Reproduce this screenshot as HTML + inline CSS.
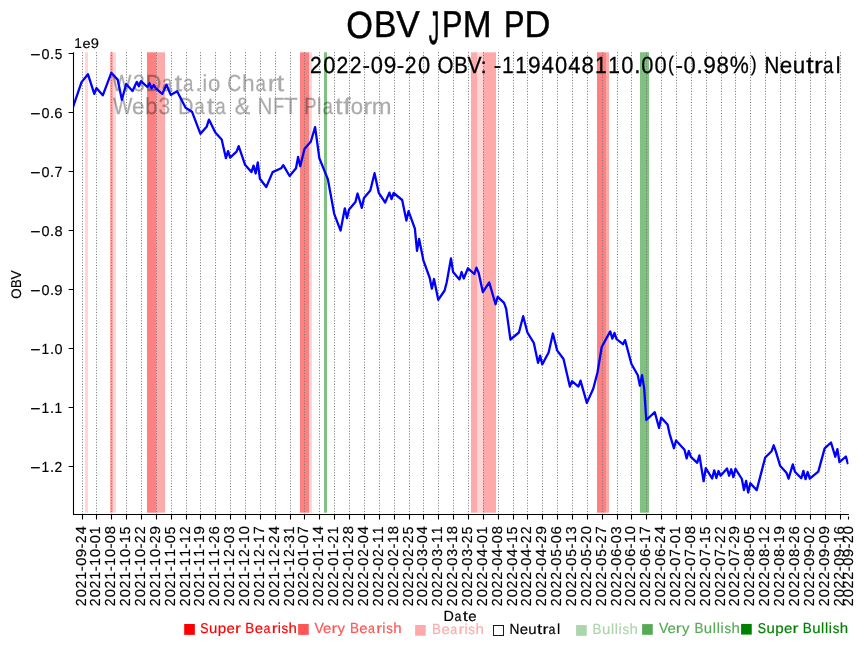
<!DOCTYPE html>
<html><head><meta charset="utf-8"><title>OBV JPM PD</title>
<style>html,body{margin:0;padding:0;background:#fff;width:867px;height:646px;overflow:hidden}
text{font-family:'Liberation Sans', sans-serif;font-kerning:none;text-rendering:geometricPrecision} svg{will-change:transform}</style></head>
<body>
<svg width="867" height="646" viewBox="0 0 867 646" style="display:block;font-family:'Liberation Sans', sans-serif">
<rect width="867" height="646" fill="#fff"/>
<rect x="85" y="52.3" width="3" height="460.40" fill="#ffd5d5"/>
<rect x="110" y="52.3" width="3" height="460.40" fill="#ffaaaa"/>
<rect x="113" y="52.3" width="3" height="460.40" fill="#ffd5d5"/>
<rect x="147" y="52.3" width="9" height="460.40" fill="#ff8080"/>
<rect x="156" y="52.3" width="9" height="460.40" fill="#ffaaaa"/>
<rect x="300" y="52.3" width="9" height="460.40" fill="#ff8080"/>
<rect x="309" y="52.3" width="3" height="460.40" fill="#ffd5d5"/>
<rect x="324" y="52.3" width="3" height="460.40" fill="#80c080"/>
<rect x="471" y="52.3" width="6" height="460.40" fill="#ffaaaa"/>
<rect x="477" y="52.3" width="6" height="460.40" fill="#ffd5d5"/>
<rect x="483" y="52.3" width="13" height="460.40" fill="#ffaaaa"/>
<rect x="597" y="52.3" width="9" height="460.40" fill="#ff8080"/>
<rect x="606" y="52.3" width="3" height="460.40" fill="#ffaaaa"/>
<rect x="640" y="52.3" width="9" height="460.40" fill="#80c080"/>
<g opacity="0.33">
<g role="img" aria-label="W3Data.io Chart" font-size="20.833" fill="#000" stroke="#000" stroke-width="0.250"><text transform="matrix(0.9859 0 0 1.1158 112.11 90.70)">W</text><text transform="matrix(1.0124 0 0 1.1249 132.93 90.78)">3</text><text transform="matrix(1.0346 0 0 1.1158 145.71 90.70)">D</text><text transform="matrix(0.8992 0 0 1.1037 161.96 90.79)">a</text><text transform="matrix(1.3365 0 0 1.1300 174.43 90.52)">t</text><text transform="matrix(0.8992 0 0 1.1037 182.94 90.79)">a</text><text transform="matrix(1.0821 0 0 1.2213 195.44 90.70)">.</text><text transform="matrix(1.0222 0 0 1.1041 202.45 90.70)">i</text><text transform="matrix(1.0631 0 0 1.1037 207.93 90.79)">o</text><text transform="matrix(0.9283 0 0 1.1249 227.30 90.78)">C</text><text transform="matrix(1.0856 0 0 1.1041 242.02 90.70)">h</text><text transform="matrix(0.8992 0 0 1.1037 255.38 90.79)">a</text><text transform="matrix(1.2812 0 0 1.0960 267.83 90.70)">r</text><text transform="matrix(1.3365 0 0 1.1300 276.43 90.52)">t</text></g>
<g role="img" aria-label="Web3 Data &amp; NFT Platform" font-size="20.833" fill="#000" stroke="#000" stroke-width="0.250"><text transform="matrix(0.9859 0 0 1.1158 112.91 113.80)">W</text><text transform="matrix(1.0801 0 0 1.1037 131.89 113.89)">e</text><text transform="matrix(1.0879 0 0 1.1097 144.97 113.88)">b</text><text transform="matrix(1.0124 0 0 1.1249 158.58 113.88)">3</text><text transform="matrix(1.0346 0 0 1.1158 177.99 113.80)">D</text><text transform="matrix(0.8992 0 0 1.1037 194.24 113.89)">a</text><text transform="matrix(1.3365 0 0 1.1300 206.71 113.62)">t</text><text transform="matrix(0.8992 0 0 1.1037 215.22 113.89)">a</text><text transform="matrix(1.1133 0 0 1.1351 234.68 113.88)">&amp;</text><text transform="matrix(0.9878 0 0 1.1158 257.46 113.80)">N</text><text transform="matrix(0.8571 0 0 1.1158 273.30 113.80)">F</text><text transform="matrix(1.0907 0 0 1.1158 283.78 113.80)">T</text><text transform="matrix(0.8844 0 0 1.1158 304.27 113.80)">P</text><text transform="matrix(1.0222 0 0 1.1041 316.85 113.80)">l</text><text transform="matrix(0.8992 0 0 1.1037 322.58 113.89)">a</text><text transform="matrix(1.3365 0 0 1.1300 335.05 113.62)">t</text><text transform="matrix(1.3131 0 0 1.1056 343.19 113.80)">f</text><text transform="matrix(1.0631 0 0 1.1037 350.67 113.89)">o</text><text transform="matrix(1.2812 0 0 1.0960 363.34 113.80)">r</text><text transform="matrix(1.1394 0 0 1.0960 371.75 113.80)">m</text></g>
</g>
<path d="M82.5 514.7V52.3M96.5 514.7V52.3M111.5 514.7V52.3M126.5 514.7V52.3M141.5 514.7V52.3M156.5 514.7V52.3M171.5 514.7V52.3M186.5 514.7V52.3M200.5 514.7V52.3M215.5 514.7V52.3M230.5 514.7V52.3M245.5 514.7V52.3M260.5 514.7V52.3M275.5 514.7V52.3M290.5 514.7V52.3M304.5 514.7V52.3M319.5 514.7V52.3M334.5 514.7V52.3M349.5 514.7V52.3M364.5 514.7V52.3M379.5 514.7V52.3M394.5 514.7V52.3M409.5 514.7V52.3M423.5 514.7V52.3M438.5 514.7V52.3M453.5 514.7V52.3M468.5 514.7V52.3M483.5 514.7V52.3M498.5 514.7V52.3M513.5 514.7V52.3M527.5 514.7V52.3M542.5 514.7V52.3M557.5 514.7V52.3M572.5 514.7V52.3M587.5 514.7V52.3M602.5 514.7V52.3M617.5 514.7V52.3M631.5 514.7V52.3M646.5 514.7V52.3M661.5 514.7V52.3M676.5 514.7V52.3M691.5 514.7V52.3M706.5 514.7V52.3M721.5 514.7V52.3M735.5 514.7V52.3M750.5 514.7V52.3M765.5 514.7V52.3M780.5 514.7V52.3M795.5 514.7V52.3M810.5 514.7V52.3M825.5 514.7V52.3M840.5 514.7V52.3" stroke="#777" stroke-width="1" stroke-dasharray="1.043 1.720" fill="none"/>
<clipPath id="ax"><rect x="73.56" y="52.3" width="774.95" height="462.3"/></clipPath>
<path clip-path="url(#ax)" d="M73.06 106.80 L81.55 82.10 L87.92 74.20 L94.29 93.90 L96.41 88.10 L102.78 95.30 L111.28 72.80 L117.65 79.60 L121.89 99.80 L126.14 84.00 L132.51 91.10 L136.75 81.90 L138.88 86.30 L141.00 81.20 L147.37 87.00 L149.49 83.30 L151.62 88.50 L153.74 85.00 L155.86 88.30 L162.23 93.90 L166.48 84.70 L170.72 94.90 L177.09 91.30 L185.59 107.80 L191.96 111.70 L200.45 133.80 L206.82 126.40 L208.94 119.60 L215.31 132.60 L221.68 139.60 L225.93 158.20 L228.05 151.20 L230.17 157.70 L236.54 151.70 L238.66 146.10 L245.03 164.70 L251.40 172.10 L253.53 165.60 L255.65 173.50 L257.77 162.50 L259.90 178.70 L266.27 187.00 L272.64 172.10 L281.13 168.30 L283.25 165.20 L289.62 176.00 L295.99 168.30 L298.11 157.00 L300.24 166.20 L304.48 148.90 L310.85 141.50 L315.10 127.10 L319.34 158.20 L327.84 179.10 L334.21 213.80 L340.58 230.60 L344.82 208.30 L346.95 218.10 L349.07 209.50 L355.44 201.90 L357.56 193.50 L361.81 207.80 L363.93 198.10 L370.30 190.50 L374.55 173.20 L378.79 192.90 L385.16 202.50 L389.41 192.60 L391.53 199.10 L393.65 193.00 L402.15 200.00 L406.39 220.50 L408.52 211.20 L414.89 228.60 L417.01 250.90 L419.13 238.90 L423.38 260.30 L429.75 278.00 L431.87 288.70 L433.99 279.00 L438.24 299.80 L444.61 290.50 L446.73 282.20 L450.98 258.50 L453.10 272.00 L459.47 279.40 L461.59 272.00 L463.72 278.50 L467.96 268.30 L474.33 274.00 L476.46 267.60 L478.58 272.60 L482.83 292.10 L489.20 282.40 L495.56 304.20 L497.69 296.80 L504.06 302.80 L506.18 308.90 L510.43 339.50 L518.92 332.50 L523.17 316.20 L527.41 332.50 L533.78 342.80 L538.03 362.80 L540.15 355.70 L542.27 364.40 L548.64 352.50 L552.89 333.50 L557.14 350.40 L563.51 359.00 L569.87 386.60 L572.00 381.20 L578.37 386.60 L580.49 380.60 L586.86 402.90 L593.23 388.80 L597.48 372.50 L601.72 347.00 L610.21 331.40 L612.34 338.60 L614.46 332.90 L616.58 339.20 L622.95 344.20 L625.08 340.10 L631.45 364.00 L637.82 375.20 L639.94 385.70 L642.06 375.20 L644.18 388.40 L646.31 420.00 L654.80 412.20 L659.05 427.90 L661.17 417.60 L667.54 424.50 L669.66 434.10 L673.91 448.20 L676.03 440.50 L684.52 449.80 L686.65 458.40 L688.77 451.00 L690.89 456.80 L697.26 462.80 L699.39 455.40 L703.63 481.20 L705.76 468.20 L712.13 478.50 L714.25 470.30 L716.37 478.00 L718.49 471.00 L720.62 475.70 L726.99 468.40 L729.11 475.70 L731.23 469.30 L733.36 477.10 L735.48 468.80 L741.85 479.00 L743.97 490.10 L746.10 480.90 L748.22 492.50 L750.34 483.20 L756.71 490.10 L765.20 457.50 L771.57 451.20 L773.70 445.30 L775.82 451.40 L780.07 465.70 L786.44 472.70 L788.56 478.70 L792.80 464.40 L794.93 471.80 L801.30 478.30 L803.42 470.90 L805.54 479.20 L807.67 472.00 L809.79 478.70 L818.28 471.60 L824.65 448.40 L831.02 442.50 L835.27 456.70 L837.39 449.10 L839.51 462.20 L845.88 456.50 L848.01 464.20" stroke="#0000ff" stroke-width="2.3" fill="none" stroke-linejoin="round"/>
<path d="M73.5 52.3V514.5H848.9" stroke="#000" stroke-width="1.1" fill="none"/>
<path d="M82.5 514.5V519.5M96.5 514.5V519.5M111.5 514.5V519.5M126.5 514.5V519.5M141.5 514.5V519.5M156.5 514.5V519.5M171.5 514.5V519.5M186.5 514.5V519.5M200.5 514.5V519.5M215.5 514.5V519.5M230.5 514.5V519.5M245.5 514.5V519.5M260.5 514.5V519.5M275.5 514.5V519.5M290.5 514.5V519.5M304.5 514.5V519.5M319.5 514.5V519.5M334.5 514.5V519.5M349.5 514.5V519.5M364.5 514.5V519.5M379.5 514.5V519.5M394.5 514.5V519.5M409.5 514.5V519.5M423.5 514.5V519.5M438.5 514.5V519.5M453.5 514.5V519.5M468.5 514.5V519.5M483.5 514.5V519.5M498.5 514.5V519.5M513.5 514.5V519.5M527.5 514.5V519.5M542.5 514.5V519.5M557.5 514.5V519.5M572.5 514.5V519.5M587.5 514.5V519.5M602.5 514.5V519.5M617.5 514.5V519.5M631.5 514.5V519.5M646.5 514.5V519.5M661.5 514.5V519.5M676.5 514.5V519.5M691.5 514.5V519.5M706.5 514.5V519.5M721.5 514.5V519.5M735.5 514.5V519.5M750.5 514.5V519.5M765.5 514.5V519.5M780.5 514.5V519.5M795.5 514.5V519.5M810.5 514.5V519.5M825.5 514.5V519.5M840.5 514.5V519.5M848.5 516.4V519.6M68.6 53.5H73.5M68.6 112.5H73.5M68.6 171.5H73.5M68.6 230.5H73.5M68.6 289.5H73.5M68.6 348.5H73.5M68.6 407.5H73.5M68.6 466.5H73.5" stroke="#000" stroke-width="1.1" fill="none"/>
<g role="img" aria-label="−0.5" font-size="13.680" fill="#000" stroke="#000" stroke-width="0.164"><text transform="matrix(1.2884 0 0 1.1822 30.33 60.12)">−</text><text transform="matrix(1.0541 0 0 1.0454 41.50 58.96)">0</text><text transform="matrix(1.0821 0 0 1.1775 49.95 59.10)">.</text><text transform="matrix(0.9949 0 0 1.0607 54.68 58.96)">5</text></g>
<g role="img" aria-label="−0.6" font-size="13.680" fill="#000" stroke="#000" stroke-width="0.164"><text transform="matrix(1.2884 0 0 1.1822 30.33 119.12)">−</text><text transform="matrix(1.0541 0 0 1.0454 41.50 117.96)">0</text><text transform="matrix(1.0821 0 0 1.1775 49.95 118.10)">.</text><text transform="matrix(1.0910 0 0 1.0454 54.36 117.96)">6</text></g>
<g role="img" aria-label="−0.7" font-size="13.680" fill="#000" stroke="#000" stroke-width="0.164"><text transform="matrix(1.2884 0 0 1.1822 30.33 178.12)">−</text><text transform="matrix(1.0541 0 0 1.0454 41.50 176.96)">0</text><text transform="matrix(1.0821 0 0 1.1775 49.95 177.10)">.</text><text transform="matrix(1.0311 0 0 1.0758 54.56 177.10)">7</text></g>
<g role="img" aria-label="−0.8" font-size="13.680" fill="#000" stroke="#000" stroke-width="0.164"><text transform="matrix(1.2884 0 0 1.1822 30.33 237.12)">−</text><text transform="matrix(1.0541 0 0 1.0454 41.50 235.96)">0</text><text transform="matrix(1.0821 0 0 1.1775 49.95 236.10)">.</text><text transform="matrix(1.0656 0 0 1.0454 54.46 235.96)">8</text></g>
<g role="img" aria-label="−0.9" font-size="13.680" fill="#000" stroke="#000" stroke-width="0.164"><text transform="matrix(1.2884 0 0 1.1822 30.33 296.12)">−</text><text transform="matrix(1.0541 0 0 1.0454 41.50 294.96)">0</text><text transform="matrix(1.0821 0 0 1.1775 49.95 295.10)">.</text><text transform="matrix(1.0888 0 0 1.0454 54.33 294.96)">9</text></g>
<g role="img" aria-label="−1.0" font-size="13.680" fill="#000" stroke="#000" stroke-width="0.164"><text transform="matrix(1.2884 0 0 1.1822 30.33 355.12)">−</text><text transform="matrix(1.0068 0 0 1.0758 41.62 354.10)">1</text><text transform="matrix(1.0821 0 0 1.1775 49.95 354.10)">.</text><text transform="matrix(1.0541 0 0 1.0454 54.50 353.96)">0</text></g>
<g role="img" aria-label="−1.1" font-size="13.680" fill="#000" stroke="#000" stroke-width="0.164"><text transform="matrix(1.2884 0 0 1.1822 30.33 414.12)">−</text><text transform="matrix(1.0068 0 0 1.0758 41.62 413.10)">1</text><text transform="matrix(1.0821 0 0 1.1775 49.95 413.10)">.</text><text transform="matrix(1.0068 0 0 1.0758 54.62 413.10)">1</text></g>
<g role="img" aria-label="−1.2" font-size="13.680" fill="#000" stroke="#000" stroke-width="0.164"><text transform="matrix(1.2884 0 0 1.1822 30.33 473.12)">−</text><text transform="matrix(1.0068 0 0 1.0758 41.62 472.10)">1</text><text transform="matrix(1.0821 0 0 1.1775 49.95 472.10)">.</text><text transform="matrix(1.0161 0 0 1.0600 54.47 472.10)">2</text></g>
<g role="img" aria-label="1e9" font-size="13.530" fill="#000" stroke="#000" stroke-width="0.162"><text transform="matrix(1.0068 0 0 1.0596 74.16 47.90)">1</text><text transform="matrix(1.0801 0 0 0.9984 82.43 47.77)">e</text><text transform="matrix(1.0888 0 0 1.0296 90.77 47.76)">9</text></g>
<g role="img" aria-label="OBV" transform="translate(21.00 0) rotate(-90)" font-size="13.440" fill="#000" stroke="#000" stroke-width="0.161"><text transform="matrix(0.9886 0 0 1.0296 -298.73 -0.14)">O</text><text transform="matrix(0.9716 0 0 1.0596 -288.08 0.00)">B</text><text transform="matrix(1.0148 0 0 1.0596 -279.48 0.00)">V</text></g>
<g role="img" aria-label="2021-09-24" transform="translate(85.80 0) rotate(-90)" font-size="13.889" fill="#000" stroke="#000" stroke-width="0.167"><text transform="matrix(1.0161 0 0 1.0441 -606.16 0.00)">2</text><text transform="matrix(1.0541 0 0 1.0296 -597.29 -0.14)">0</text><text transform="matrix(1.0161 0 0 1.0441 -588.50 0.00)">2</text><text transform="matrix(1.0068 0 0 1.0596 -579.52 0.00)">1</text><text transform="matrix(1.0780 0 0 1.0250 -571.14 -0.02)">-</text><text transform="matrix(1.0541 0 0 1.0296 -565.80 -0.14)">0</text><text transform="matrix(1.0888 0 0 1.0296 -557.15 -0.14)">9</text><text transform="matrix(1.0780 0 0 1.0250 -548.48 -0.02)">-</text><text transform="matrix(1.0161 0 0 1.0441 -543.18 0.00)">2</text><text transform="matrix(1.0543 0 0 1.0596 -534.31 0.00)">4</text></g>
<g role="img" aria-label="2021-10-01" transform="translate(99.80 0) rotate(-90)" font-size="13.889" fill="#000" stroke="#000" stroke-width="0.167"><text transform="matrix(1.0161 0 0 1.0441 -606.16 0.00)">2</text><text transform="matrix(1.0541 0 0 1.0296 -597.29 -0.14)">0</text><text transform="matrix(1.0161 0 0 1.0441 -588.50 0.00)">2</text><text transform="matrix(1.0068 0 0 1.0596 -579.52 0.00)">1</text><text transform="matrix(1.0780 0 0 1.0250 -571.14 -0.02)">-</text><text transform="matrix(1.0068 0 0 1.0596 -565.69 0.00)">1</text><text transform="matrix(1.0541 0 0 1.0296 -556.98 -0.14)">0</text><text transform="matrix(1.0780 0 0 1.0250 -548.48 -0.02)">-</text><text transform="matrix(1.0541 0 0 1.0296 -543.14 -0.14)">0</text><text transform="matrix(1.0068 0 0 1.0596 -534.20 0.00)">1</text></g>
<g role="img" aria-label="2021-10-08" transform="translate(114.80 0) rotate(-90)" font-size="13.889" fill="#000" stroke="#000" stroke-width="0.167"><text transform="matrix(1.0161 0 0 1.0441 -606.16 0.00)">2</text><text transform="matrix(1.0541 0 0 1.0296 -597.29 -0.14)">0</text><text transform="matrix(1.0161 0 0 1.0441 -588.50 0.00)">2</text><text transform="matrix(1.0068 0 0 1.0596 -579.52 0.00)">1</text><text transform="matrix(1.0780 0 0 1.0250 -571.14 -0.02)">-</text><text transform="matrix(1.0068 0 0 1.0596 -565.69 0.00)">1</text><text transform="matrix(1.0541 0 0 1.0296 -556.98 -0.14)">0</text><text transform="matrix(1.0780 0 0 1.0250 -548.48 -0.02)">-</text><text transform="matrix(1.0541 0 0 1.0296 -543.14 -0.14)">0</text><text transform="matrix(1.0656 0 0 1.0296 -534.36 -0.14)">8</text></g>
<g role="img" aria-label="2021-10-15" transform="translate(129.80 0) rotate(-90)" font-size="13.889" fill="#000" stroke="#000" stroke-width="0.167"><text transform="matrix(1.0161 0 0 1.0441 -606.16 0.00)">2</text><text transform="matrix(1.0541 0 0 1.0296 -597.29 -0.14)">0</text><text transform="matrix(1.0161 0 0 1.0441 -588.50 0.00)">2</text><text transform="matrix(1.0068 0 0 1.0596 -579.52 0.00)">1</text><text transform="matrix(1.0780 0 0 1.0250 -571.14 -0.02)">-</text><text transform="matrix(1.0068 0 0 1.0596 -565.69 0.00)">1</text><text transform="matrix(1.0541 0 0 1.0296 -556.98 -0.14)">0</text><text transform="matrix(1.0780 0 0 1.0250 -548.48 -0.02)">-</text><text transform="matrix(1.0068 0 0 1.0596 -543.02 0.00)">1</text><text transform="matrix(0.9949 0 0 1.0448 -534.14 -0.14)">5</text></g>
<g role="img" aria-label="2021-10-22" transform="translate(144.80 0) rotate(-90)" font-size="13.889" fill="#000" stroke="#000" stroke-width="0.167"><text transform="matrix(1.0161 0 0 1.0441 -606.16 0.00)">2</text><text transform="matrix(1.0541 0 0 1.0296 -597.29 -0.14)">0</text><text transform="matrix(1.0161 0 0 1.0441 -588.50 0.00)">2</text><text transform="matrix(1.0068 0 0 1.0596 -579.52 0.00)">1</text><text transform="matrix(1.0780 0 0 1.0250 -571.14 -0.02)">-</text><text transform="matrix(1.0068 0 0 1.0596 -565.69 0.00)">1</text><text transform="matrix(1.0541 0 0 1.0296 -556.98 -0.14)">0</text><text transform="matrix(1.0780 0 0 1.0250 -548.48 -0.02)">-</text><text transform="matrix(1.0161 0 0 1.0441 -543.18 0.00)">2</text><text transform="matrix(1.0161 0 0 1.0441 -534.35 0.00)">2</text></g>
<g role="img" aria-label="2021-10-29" transform="translate(159.80 0) rotate(-90)" font-size="13.889" fill="#000" stroke="#000" stroke-width="0.167"><text transform="matrix(1.0161 0 0 1.0441 -606.16 0.00)">2</text><text transform="matrix(1.0541 0 0 1.0296 -597.29 -0.14)">0</text><text transform="matrix(1.0161 0 0 1.0441 -588.50 0.00)">2</text><text transform="matrix(1.0068 0 0 1.0596 -579.52 0.00)">1</text><text transform="matrix(1.0780 0 0 1.0250 -571.14 -0.02)">-</text><text transform="matrix(1.0068 0 0 1.0596 -565.69 0.00)">1</text><text transform="matrix(1.0541 0 0 1.0296 -556.98 -0.14)">0</text><text transform="matrix(1.0780 0 0 1.0250 -548.48 -0.02)">-</text><text transform="matrix(1.0161 0 0 1.0441 -543.18 0.00)">2</text><text transform="matrix(1.0888 0 0 1.0296 -534.49 -0.14)">9</text></g>
<g role="img" aria-label="2021-11-05" transform="translate(174.80 0) rotate(-90)" font-size="13.889" fill="#000" stroke="#000" stroke-width="0.167"><text transform="matrix(1.0161 0 0 1.0441 -606.16 0.00)">2</text><text transform="matrix(1.0541 0 0 1.0296 -597.29 -0.14)">0</text><text transform="matrix(1.0161 0 0 1.0441 -588.50 0.00)">2</text><text transform="matrix(1.0068 0 0 1.0596 -579.52 0.00)">1</text><text transform="matrix(1.0780 0 0 1.0250 -571.14 -0.02)">-</text><text transform="matrix(1.0068 0 0 1.0596 -565.69 0.00)">1</text><text transform="matrix(1.0068 0 0 1.0596 -556.86 0.00)">1</text><text transform="matrix(1.0780 0 0 1.0250 -548.48 -0.02)">-</text><text transform="matrix(1.0541 0 0 1.0296 -543.14 -0.14)">0</text><text transform="matrix(0.9949 0 0 1.0448 -534.14 -0.14)">5</text></g>
<g role="img" aria-label="2021-11-12" transform="translate(189.80 0) rotate(-90)" font-size="13.889" fill="#000" stroke="#000" stroke-width="0.167"><text transform="matrix(1.0161 0 0 1.0441 -606.16 0.00)">2</text><text transform="matrix(1.0541 0 0 1.0296 -597.29 -0.14)">0</text><text transform="matrix(1.0161 0 0 1.0441 -588.50 0.00)">2</text><text transform="matrix(1.0068 0 0 1.0596 -579.52 0.00)">1</text><text transform="matrix(1.0780 0 0 1.0250 -571.14 -0.02)">-</text><text transform="matrix(1.0068 0 0 1.0596 -565.69 0.00)">1</text><text transform="matrix(1.0068 0 0 1.0596 -556.86 0.00)">1</text><text transform="matrix(1.0780 0 0 1.0250 -548.48 -0.02)">-</text><text transform="matrix(1.0068 0 0 1.0596 -543.02 0.00)">1</text><text transform="matrix(1.0161 0 0 1.0441 -534.35 0.00)">2</text></g>
<g role="img" aria-label="2021-11-19" transform="translate(203.80 0) rotate(-90)" font-size="13.889" fill="#000" stroke="#000" stroke-width="0.167"><text transform="matrix(1.0161 0 0 1.0441 -606.16 0.00)">2</text><text transform="matrix(1.0541 0 0 1.0296 -597.29 -0.14)">0</text><text transform="matrix(1.0161 0 0 1.0441 -588.50 0.00)">2</text><text transform="matrix(1.0068 0 0 1.0596 -579.52 0.00)">1</text><text transform="matrix(1.0780 0 0 1.0250 -571.14 -0.02)">-</text><text transform="matrix(1.0068 0 0 1.0596 -565.69 0.00)">1</text><text transform="matrix(1.0068 0 0 1.0596 -556.86 0.00)">1</text><text transform="matrix(1.0780 0 0 1.0250 -548.48 -0.02)">-</text><text transform="matrix(1.0068 0 0 1.0596 -543.02 0.00)">1</text><text transform="matrix(1.0888 0 0 1.0296 -534.49 -0.14)">9</text></g>
<g role="img" aria-label="2021-11-26" transform="translate(218.80 0) rotate(-90)" font-size="13.889" fill="#000" stroke="#000" stroke-width="0.167"><text transform="matrix(1.0161 0 0 1.0441 -606.16 0.00)">2</text><text transform="matrix(1.0541 0 0 1.0296 -597.29 -0.14)">0</text><text transform="matrix(1.0161 0 0 1.0441 -588.50 0.00)">2</text><text transform="matrix(1.0068 0 0 1.0596 -579.52 0.00)">1</text><text transform="matrix(1.0780 0 0 1.0250 -571.14 -0.02)">-</text><text transform="matrix(1.0068 0 0 1.0596 -565.69 0.00)">1</text><text transform="matrix(1.0068 0 0 1.0596 -556.86 0.00)">1</text><text transform="matrix(1.0780 0 0 1.0250 -548.48 -0.02)">-</text><text transform="matrix(1.0161 0 0 1.0441 -543.18 0.00)">2</text><text transform="matrix(1.0910 0 0 1.0296 -534.46 -0.14)">6</text></g>
<g role="img" aria-label="2021-12-03" transform="translate(233.80 0) rotate(-90)" font-size="13.889" fill="#000" stroke="#000" stroke-width="0.167"><text transform="matrix(1.0161 0 0 1.0441 -606.16 0.00)">2</text><text transform="matrix(1.0541 0 0 1.0296 -597.29 -0.14)">0</text><text transform="matrix(1.0161 0 0 1.0441 -588.50 0.00)">2</text><text transform="matrix(1.0068 0 0 1.0596 -579.52 0.00)">1</text><text transform="matrix(1.0780 0 0 1.0250 -571.14 -0.02)">-</text><text transform="matrix(1.0068 0 0 1.0596 -565.69 0.00)">1</text><text transform="matrix(1.0161 0 0 1.0441 -557.01 0.00)">2</text><text transform="matrix(1.0780 0 0 1.0250 -548.48 -0.02)">-</text><text transform="matrix(1.0541 0 0 1.0296 -543.14 -0.14)">0</text><text transform="matrix(1.0124 0 0 1.0296 -534.13 -0.14)">3</text></g>
<g role="img" aria-label="2021-12-10" transform="translate(248.80 0) rotate(-90)" font-size="13.889" fill="#000" stroke="#000" stroke-width="0.167"><text transform="matrix(1.0161 0 0 1.0441 -606.16 0.00)">2</text><text transform="matrix(1.0541 0 0 1.0296 -597.29 -0.14)">0</text><text transform="matrix(1.0161 0 0 1.0441 -588.50 0.00)">2</text><text transform="matrix(1.0068 0 0 1.0596 -579.52 0.00)">1</text><text transform="matrix(1.0780 0 0 1.0250 -571.14 -0.02)">-</text><text transform="matrix(1.0068 0 0 1.0596 -565.69 0.00)">1</text><text transform="matrix(1.0161 0 0 1.0441 -557.01 0.00)">2</text><text transform="matrix(1.0780 0 0 1.0250 -548.48 -0.02)">-</text><text transform="matrix(1.0068 0 0 1.0596 -543.02 0.00)">1</text><text transform="matrix(1.0541 0 0 1.0296 -534.31 -0.14)">0</text></g>
<g role="img" aria-label="2021-12-17" transform="translate(263.80 0) rotate(-90)" font-size="13.889" fill="#000" stroke="#000" stroke-width="0.167"><text transform="matrix(1.0161 0 0 1.0441 -606.16 0.00)">2</text><text transform="matrix(1.0541 0 0 1.0296 -597.29 -0.14)">0</text><text transform="matrix(1.0161 0 0 1.0441 -588.50 0.00)">2</text><text transform="matrix(1.0068 0 0 1.0596 -579.52 0.00)">1</text><text transform="matrix(1.0780 0 0 1.0250 -571.14 -0.02)">-</text><text transform="matrix(1.0068 0 0 1.0596 -565.69 0.00)">1</text><text transform="matrix(1.0161 0 0 1.0441 -557.01 0.00)">2</text><text transform="matrix(1.0780 0 0 1.0250 -548.48 -0.02)">-</text><text transform="matrix(1.0068 0 0 1.0596 -543.02 0.00)">1</text><text transform="matrix(1.0311 0 0 1.0596 -534.25 0.00)">7</text></g>
<g role="img" aria-label="2021-12-24" transform="translate(278.80 0) rotate(-90)" font-size="13.889" fill="#000" stroke="#000" stroke-width="0.167"><text transform="matrix(1.0161 0 0 1.0441 -606.16 0.00)">2</text><text transform="matrix(1.0541 0 0 1.0296 -597.29 -0.14)">0</text><text transform="matrix(1.0161 0 0 1.0441 -588.50 0.00)">2</text><text transform="matrix(1.0068 0 0 1.0596 -579.52 0.00)">1</text><text transform="matrix(1.0780 0 0 1.0250 -571.14 -0.02)">-</text><text transform="matrix(1.0068 0 0 1.0596 -565.69 0.00)">1</text><text transform="matrix(1.0161 0 0 1.0441 -557.01 0.00)">2</text><text transform="matrix(1.0780 0 0 1.0250 -548.48 -0.02)">-</text><text transform="matrix(1.0161 0 0 1.0441 -543.18 0.00)">2</text><text transform="matrix(1.0543 0 0 1.0596 -534.31 0.00)">4</text></g>
<g role="img" aria-label="2021-12-31" transform="translate(293.80 0) rotate(-90)" font-size="13.889" fill="#000" stroke="#000" stroke-width="0.167"><text transform="matrix(1.0161 0 0 1.0441 -606.16 0.00)">2</text><text transform="matrix(1.0541 0 0 1.0296 -597.29 -0.14)">0</text><text transform="matrix(1.0161 0 0 1.0441 -588.50 0.00)">2</text><text transform="matrix(1.0068 0 0 1.0596 -579.52 0.00)">1</text><text transform="matrix(1.0780 0 0 1.0250 -571.14 -0.02)">-</text><text transform="matrix(1.0068 0 0 1.0596 -565.69 0.00)">1</text><text transform="matrix(1.0161 0 0 1.0441 -557.01 0.00)">2</text><text transform="matrix(1.0780 0 0 1.0250 -548.48 -0.02)">-</text><text transform="matrix(1.0124 0 0 1.0296 -542.96 -0.14)">3</text><text transform="matrix(1.0068 0 0 1.0596 -534.20 0.00)">1</text></g>
<g role="img" aria-label="2022-01-07" transform="translate(307.80 0) rotate(-90)" font-size="13.889" fill="#000" stroke="#000" stroke-width="0.167"><text transform="matrix(1.0161 0 0 1.0441 -606.16 0.00)">2</text><text transform="matrix(1.0541 0 0 1.0296 -597.29 -0.14)">0</text><text transform="matrix(1.0161 0 0 1.0441 -588.50 0.00)">2</text><text transform="matrix(1.0161 0 0 1.0441 -579.67 0.00)">2</text><text transform="matrix(1.0780 0 0 1.0250 -571.14 -0.02)">-</text><text transform="matrix(1.0541 0 0 1.0296 -565.80 -0.14)">0</text><text transform="matrix(1.0068 0 0 1.0596 -556.86 0.00)">1</text><text transform="matrix(1.0780 0 0 1.0250 -548.48 -0.02)">-</text><text transform="matrix(1.0541 0 0 1.0296 -543.14 -0.14)">0</text><text transform="matrix(1.0311 0 0 1.0596 -534.25 0.00)">7</text></g>
<g role="img" aria-label="2022-01-14" transform="translate(322.80 0) rotate(-90)" font-size="13.889" fill="#000" stroke="#000" stroke-width="0.167"><text transform="matrix(1.0161 0 0 1.0441 -606.16 0.00)">2</text><text transform="matrix(1.0541 0 0 1.0296 -597.29 -0.14)">0</text><text transform="matrix(1.0161 0 0 1.0441 -588.50 0.00)">2</text><text transform="matrix(1.0161 0 0 1.0441 -579.67 0.00)">2</text><text transform="matrix(1.0780 0 0 1.0250 -571.14 -0.02)">-</text><text transform="matrix(1.0541 0 0 1.0296 -565.80 -0.14)">0</text><text transform="matrix(1.0068 0 0 1.0596 -556.86 0.00)">1</text><text transform="matrix(1.0780 0 0 1.0250 -548.48 -0.02)">-</text><text transform="matrix(1.0068 0 0 1.0596 -543.02 0.00)">1</text><text transform="matrix(1.0543 0 0 1.0596 -534.31 0.00)">4</text></g>
<g role="img" aria-label="2022-01-21" transform="translate(337.80 0) rotate(-90)" font-size="13.889" fill="#000" stroke="#000" stroke-width="0.167"><text transform="matrix(1.0161 0 0 1.0441 -606.16 0.00)">2</text><text transform="matrix(1.0541 0 0 1.0296 -597.29 -0.14)">0</text><text transform="matrix(1.0161 0 0 1.0441 -588.50 0.00)">2</text><text transform="matrix(1.0161 0 0 1.0441 -579.67 0.00)">2</text><text transform="matrix(1.0780 0 0 1.0250 -571.14 -0.02)">-</text><text transform="matrix(1.0541 0 0 1.0296 -565.80 -0.14)">0</text><text transform="matrix(1.0068 0 0 1.0596 -556.86 0.00)">1</text><text transform="matrix(1.0780 0 0 1.0250 -548.48 -0.02)">-</text><text transform="matrix(1.0161 0 0 1.0441 -543.18 0.00)">2</text><text transform="matrix(1.0068 0 0 1.0596 -534.20 0.00)">1</text></g>
<g role="img" aria-label="2022-01-28" transform="translate(352.80 0) rotate(-90)" font-size="13.889" fill="#000" stroke="#000" stroke-width="0.167"><text transform="matrix(1.0161 0 0 1.0441 -606.16 0.00)">2</text><text transform="matrix(1.0541 0 0 1.0296 -597.29 -0.14)">0</text><text transform="matrix(1.0161 0 0 1.0441 -588.50 0.00)">2</text><text transform="matrix(1.0161 0 0 1.0441 -579.67 0.00)">2</text><text transform="matrix(1.0780 0 0 1.0250 -571.14 -0.02)">-</text><text transform="matrix(1.0541 0 0 1.0296 -565.80 -0.14)">0</text><text transform="matrix(1.0068 0 0 1.0596 -556.86 0.00)">1</text><text transform="matrix(1.0780 0 0 1.0250 -548.48 -0.02)">-</text><text transform="matrix(1.0161 0 0 1.0441 -543.18 0.00)">2</text><text transform="matrix(1.0656 0 0 1.0296 -534.36 -0.14)">8</text></g>
<g role="img" aria-label="2022-02-04" transform="translate(367.80 0) rotate(-90)" font-size="13.889" fill="#000" stroke="#000" stroke-width="0.167"><text transform="matrix(1.0161 0 0 1.0441 -606.16 0.00)">2</text><text transform="matrix(1.0541 0 0 1.0296 -597.29 -0.14)">0</text><text transform="matrix(1.0161 0 0 1.0441 -588.50 0.00)">2</text><text transform="matrix(1.0161 0 0 1.0441 -579.67 0.00)">2</text><text transform="matrix(1.0780 0 0 1.0250 -571.14 -0.02)">-</text><text transform="matrix(1.0541 0 0 1.0296 -565.80 -0.14)">0</text><text transform="matrix(1.0161 0 0 1.0441 -557.01 0.00)">2</text><text transform="matrix(1.0780 0 0 1.0250 -548.48 -0.02)">-</text><text transform="matrix(1.0541 0 0 1.0296 -543.14 -0.14)">0</text><text transform="matrix(1.0543 0 0 1.0596 -534.31 0.00)">4</text></g>
<g role="img" aria-label="2022-02-11" transform="translate(382.80 0) rotate(-90)" font-size="13.889" fill="#000" stroke="#000" stroke-width="0.167"><text transform="matrix(1.0161 0 0 1.0441 -606.16 0.00)">2</text><text transform="matrix(1.0541 0 0 1.0296 -597.29 -0.14)">0</text><text transform="matrix(1.0161 0 0 1.0441 -588.50 0.00)">2</text><text transform="matrix(1.0161 0 0 1.0441 -579.67 0.00)">2</text><text transform="matrix(1.0780 0 0 1.0250 -571.14 -0.02)">-</text><text transform="matrix(1.0541 0 0 1.0296 -565.80 -0.14)">0</text><text transform="matrix(1.0161 0 0 1.0441 -557.01 0.00)">2</text><text transform="matrix(1.0780 0 0 1.0250 -548.48 -0.02)">-</text><text transform="matrix(1.0068 0 0 1.0596 -543.02 0.00)">1</text><text transform="matrix(1.0068 0 0 1.0596 -534.20 0.00)">1</text></g>
<g role="img" aria-label="2022-02-18" transform="translate(397.80 0) rotate(-90)" font-size="13.889" fill="#000" stroke="#000" stroke-width="0.167"><text transform="matrix(1.0161 0 0 1.0441 -606.16 0.00)">2</text><text transform="matrix(1.0541 0 0 1.0296 -597.29 -0.14)">0</text><text transform="matrix(1.0161 0 0 1.0441 -588.50 0.00)">2</text><text transform="matrix(1.0161 0 0 1.0441 -579.67 0.00)">2</text><text transform="matrix(1.0780 0 0 1.0250 -571.14 -0.02)">-</text><text transform="matrix(1.0541 0 0 1.0296 -565.80 -0.14)">0</text><text transform="matrix(1.0161 0 0 1.0441 -557.01 0.00)">2</text><text transform="matrix(1.0780 0 0 1.0250 -548.48 -0.02)">-</text><text transform="matrix(1.0068 0 0 1.0596 -543.02 0.00)">1</text><text transform="matrix(1.0656 0 0 1.0296 -534.36 -0.14)">8</text></g>
<g role="img" aria-label="2022-02-25" transform="translate(412.80 0) rotate(-90)" font-size="13.889" fill="#000" stroke="#000" stroke-width="0.167"><text transform="matrix(1.0161 0 0 1.0441 -606.16 0.00)">2</text><text transform="matrix(1.0541 0 0 1.0296 -597.29 -0.14)">0</text><text transform="matrix(1.0161 0 0 1.0441 -588.50 0.00)">2</text><text transform="matrix(1.0161 0 0 1.0441 -579.67 0.00)">2</text><text transform="matrix(1.0780 0 0 1.0250 -571.14 -0.02)">-</text><text transform="matrix(1.0541 0 0 1.0296 -565.80 -0.14)">0</text><text transform="matrix(1.0161 0 0 1.0441 -557.01 0.00)">2</text><text transform="matrix(1.0780 0 0 1.0250 -548.48 -0.02)">-</text><text transform="matrix(1.0161 0 0 1.0441 -543.18 0.00)">2</text><text transform="matrix(0.9949 0 0 1.0448 -534.14 -0.14)">5</text></g>
<g role="img" aria-label="2022-03-04" transform="translate(426.80 0) rotate(-90)" font-size="13.889" fill="#000" stroke="#000" stroke-width="0.167"><text transform="matrix(1.0161 0 0 1.0441 -606.16 0.00)">2</text><text transform="matrix(1.0541 0 0 1.0296 -597.29 -0.14)">0</text><text transform="matrix(1.0161 0 0 1.0441 -588.50 0.00)">2</text><text transform="matrix(1.0161 0 0 1.0441 -579.67 0.00)">2</text><text transform="matrix(1.0780 0 0 1.0250 -571.14 -0.02)">-</text><text transform="matrix(1.0541 0 0 1.0296 -565.80 -0.14)">0</text><text transform="matrix(1.0124 0 0 1.0296 -556.80 -0.14)">3</text><text transform="matrix(1.0780 0 0 1.0250 -548.48 -0.02)">-</text><text transform="matrix(1.0541 0 0 1.0296 -543.14 -0.14)">0</text><text transform="matrix(1.0543 0 0 1.0596 -534.31 0.00)">4</text></g>
<g role="img" aria-label="2022-03-11" transform="translate(441.80 0) rotate(-90)" font-size="13.889" fill="#000" stroke="#000" stroke-width="0.167"><text transform="matrix(1.0161 0 0 1.0441 -606.16 0.00)">2</text><text transform="matrix(1.0541 0 0 1.0296 -597.29 -0.14)">0</text><text transform="matrix(1.0161 0 0 1.0441 -588.50 0.00)">2</text><text transform="matrix(1.0161 0 0 1.0441 -579.67 0.00)">2</text><text transform="matrix(1.0780 0 0 1.0250 -571.14 -0.02)">-</text><text transform="matrix(1.0541 0 0 1.0296 -565.80 -0.14)">0</text><text transform="matrix(1.0124 0 0 1.0296 -556.80 -0.14)">3</text><text transform="matrix(1.0780 0 0 1.0250 -548.48 -0.02)">-</text><text transform="matrix(1.0068 0 0 1.0596 -543.02 0.00)">1</text><text transform="matrix(1.0068 0 0 1.0596 -534.20 0.00)">1</text></g>
<g role="img" aria-label="2022-03-18" transform="translate(456.80 0) rotate(-90)" font-size="13.889" fill="#000" stroke="#000" stroke-width="0.167"><text transform="matrix(1.0161 0 0 1.0441 -606.16 0.00)">2</text><text transform="matrix(1.0541 0 0 1.0296 -597.29 -0.14)">0</text><text transform="matrix(1.0161 0 0 1.0441 -588.50 0.00)">2</text><text transform="matrix(1.0161 0 0 1.0441 -579.67 0.00)">2</text><text transform="matrix(1.0780 0 0 1.0250 -571.14 -0.02)">-</text><text transform="matrix(1.0541 0 0 1.0296 -565.80 -0.14)">0</text><text transform="matrix(1.0124 0 0 1.0296 -556.80 -0.14)">3</text><text transform="matrix(1.0780 0 0 1.0250 -548.48 -0.02)">-</text><text transform="matrix(1.0068 0 0 1.0596 -543.02 0.00)">1</text><text transform="matrix(1.0656 0 0 1.0296 -534.36 -0.14)">8</text></g>
<g role="img" aria-label="2022-03-25" transform="translate(471.80 0) rotate(-90)" font-size="13.889" fill="#000" stroke="#000" stroke-width="0.167"><text transform="matrix(1.0161 0 0 1.0441 -606.16 0.00)">2</text><text transform="matrix(1.0541 0 0 1.0296 -597.29 -0.14)">0</text><text transform="matrix(1.0161 0 0 1.0441 -588.50 0.00)">2</text><text transform="matrix(1.0161 0 0 1.0441 -579.67 0.00)">2</text><text transform="matrix(1.0780 0 0 1.0250 -571.14 -0.02)">-</text><text transform="matrix(1.0541 0 0 1.0296 -565.80 -0.14)">0</text><text transform="matrix(1.0124 0 0 1.0296 -556.80 -0.14)">3</text><text transform="matrix(1.0780 0 0 1.0250 -548.48 -0.02)">-</text><text transform="matrix(1.0161 0 0 1.0441 -543.18 0.00)">2</text><text transform="matrix(0.9949 0 0 1.0448 -534.14 -0.14)">5</text></g>
<g role="img" aria-label="2022-04-01" transform="translate(486.80 0) rotate(-90)" font-size="13.889" fill="#000" stroke="#000" stroke-width="0.167"><text transform="matrix(1.0161 0 0 1.0441 -606.16 0.00)">2</text><text transform="matrix(1.0541 0 0 1.0296 -597.29 -0.14)">0</text><text transform="matrix(1.0161 0 0 1.0441 -588.50 0.00)">2</text><text transform="matrix(1.0161 0 0 1.0441 -579.67 0.00)">2</text><text transform="matrix(1.0780 0 0 1.0250 -571.14 -0.02)">-</text><text transform="matrix(1.0541 0 0 1.0296 -565.80 -0.14)">0</text><text transform="matrix(1.0543 0 0 1.0596 -556.98 0.00)">4</text><text transform="matrix(1.0780 0 0 1.0250 -548.48 -0.02)">-</text><text transform="matrix(1.0541 0 0 1.0296 -543.14 -0.14)">0</text><text transform="matrix(1.0068 0 0 1.0596 -534.20 0.00)">1</text></g>
<g role="img" aria-label="2022-04-08" transform="translate(501.80 0) rotate(-90)" font-size="13.889" fill="#000" stroke="#000" stroke-width="0.167"><text transform="matrix(1.0161 0 0 1.0441 -606.16 0.00)">2</text><text transform="matrix(1.0541 0 0 1.0296 -597.29 -0.14)">0</text><text transform="matrix(1.0161 0 0 1.0441 -588.50 0.00)">2</text><text transform="matrix(1.0161 0 0 1.0441 -579.67 0.00)">2</text><text transform="matrix(1.0780 0 0 1.0250 -571.14 -0.02)">-</text><text transform="matrix(1.0541 0 0 1.0296 -565.80 -0.14)">0</text><text transform="matrix(1.0543 0 0 1.0596 -556.98 0.00)">4</text><text transform="matrix(1.0780 0 0 1.0250 -548.48 -0.02)">-</text><text transform="matrix(1.0541 0 0 1.0296 -543.14 -0.14)">0</text><text transform="matrix(1.0656 0 0 1.0296 -534.36 -0.14)">8</text></g>
<g role="img" aria-label="2022-04-15" transform="translate(516.80 0) rotate(-90)" font-size="13.889" fill="#000" stroke="#000" stroke-width="0.167"><text transform="matrix(1.0161 0 0 1.0441 -606.16 0.00)">2</text><text transform="matrix(1.0541 0 0 1.0296 -597.29 -0.14)">0</text><text transform="matrix(1.0161 0 0 1.0441 -588.50 0.00)">2</text><text transform="matrix(1.0161 0 0 1.0441 -579.67 0.00)">2</text><text transform="matrix(1.0780 0 0 1.0250 -571.14 -0.02)">-</text><text transform="matrix(1.0541 0 0 1.0296 -565.80 -0.14)">0</text><text transform="matrix(1.0543 0 0 1.0596 -556.98 0.00)">4</text><text transform="matrix(1.0780 0 0 1.0250 -548.48 -0.02)">-</text><text transform="matrix(1.0068 0 0 1.0596 -543.02 0.00)">1</text><text transform="matrix(0.9949 0 0 1.0448 -534.14 -0.14)">5</text></g>
<g role="img" aria-label="2022-04-22" transform="translate(530.80 0) rotate(-90)" font-size="13.889" fill="#000" stroke="#000" stroke-width="0.167"><text transform="matrix(1.0161 0 0 1.0441 -606.16 0.00)">2</text><text transform="matrix(1.0541 0 0 1.0296 -597.29 -0.14)">0</text><text transform="matrix(1.0161 0 0 1.0441 -588.50 0.00)">2</text><text transform="matrix(1.0161 0 0 1.0441 -579.67 0.00)">2</text><text transform="matrix(1.0780 0 0 1.0250 -571.14 -0.02)">-</text><text transform="matrix(1.0541 0 0 1.0296 -565.80 -0.14)">0</text><text transform="matrix(1.0543 0 0 1.0596 -556.98 0.00)">4</text><text transform="matrix(1.0780 0 0 1.0250 -548.48 -0.02)">-</text><text transform="matrix(1.0161 0 0 1.0441 -543.18 0.00)">2</text><text transform="matrix(1.0161 0 0 1.0441 -534.35 0.00)">2</text></g>
<g role="img" aria-label="2022-04-29" transform="translate(545.80 0) rotate(-90)" font-size="13.889" fill="#000" stroke="#000" stroke-width="0.167"><text transform="matrix(1.0161 0 0 1.0441 -606.16 0.00)">2</text><text transform="matrix(1.0541 0 0 1.0296 -597.29 -0.14)">0</text><text transform="matrix(1.0161 0 0 1.0441 -588.50 0.00)">2</text><text transform="matrix(1.0161 0 0 1.0441 -579.67 0.00)">2</text><text transform="matrix(1.0780 0 0 1.0250 -571.14 -0.02)">-</text><text transform="matrix(1.0541 0 0 1.0296 -565.80 -0.14)">0</text><text transform="matrix(1.0543 0 0 1.0596 -556.98 0.00)">4</text><text transform="matrix(1.0780 0 0 1.0250 -548.48 -0.02)">-</text><text transform="matrix(1.0161 0 0 1.0441 -543.18 0.00)">2</text><text transform="matrix(1.0888 0 0 1.0296 -534.49 -0.14)">9</text></g>
<g role="img" aria-label="2022-05-06" transform="translate(560.80 0) rotate(-90)" font-size="13.889" fill="#000" stroke="#000" stroke-width="0.167"><text transform="matrix(1.0161 0 0 1.0441 -606.16 0.00)">2</text><text transform="matrix(1.0541 0 0 1.0296 -597.29 -0.14)">0</text><text transform="matrix(1.0161 0 0 1.0441 -588.50 0.00)">2</text><text transform="matrix(1.0161 0 0 1.0441 -579.67 0.00)">2</text><text transform="matrix(1.0780 0 0 1.0250 -571.14 -0.02)">-</text><text transform="matrix(1.0541 0 0 1.0296 -565.80 -0.14)">0</text><text transform="matrix(0.9949 0 0 1.0448 -556.80 -0.14)">5</text><text transform="matrix(1.0780 0 0 1.0250 -548.48 -0.02)">-</text><text transform="matrix(1.0541 0 0 1.0296 -543.14 -0.14)">0</text><text transform="matrix(1.0910 0 0 1.0296 -534.46 -0.14)">6</text></g>
<g role="img" aria-label="2022-05-13" transform="translate(575.80 0) rotate(-90)" font-size="13.889" fill="#000" stroke="#000" stroke-width="0.167"><text transform="matrix(1.0161 0 0 1.0441 -606.16 0.00)">2</text><text transform="matrix(1.0541 0 0 1.0296 -597.29 -0.14)">0</text><text transform="matrix(1.0161 0 0 1.0441 -588.50 0.00)">2</text><text transform="matrix(1.0161 0 0 1.0441 -579.67 0.00)">2</text><text transform="matrix(1.0780 0 0 1.0250 -571.14 -0.02)">-</text><text transform="matrix(1.0541 0 0 1.0296 -565.80 -0.14)">0</text><text transform="matrix(0.9949 0 0 1.0448 -556.80 -0.14)">5</text><text transform="matrix(1.0780 0 0 1.0250 -548.48 -0.02)">-</text><text transform="matrix(1.0068 0 0 1.0596 -543.02 0.00)">1</text><text transform="matrix(1.0124 0 0 1.0296 -534.13 -0.14)">3</text></g>
<g role="img" aria-label="2022-05-20" transform="translate(590.80 0) rotate(-90)" font-size="13.889" fill="#000" stroke="#000" stroke-width="0.167"><text transform="matrix(1.0161 0 0 1.0441 -606.16 0.00)">2</text><text transform="matrix(1.0541 0 0 1.0296 -597.29 -0.14)">0</text><text transform="matrix(1.0161 0 0 1.0441 -588.50 0.00)">2</text><text transform="matrix(1.0161 0 0 1.0441 -579.67 0.00)">2</text><text transform="matrix(1.0780 0 0 1.0250 -571.14 -0.02)">-</text><text transform="matrix(1.0541 0 0 1.0296 -565.80 -0.14)">0</text><text transform="matrix(0.9949 0 0 1.0448 -556.80 -0.14)">5</text><text transform="matrix(1.0780 0 0 1.0250 -548.48 -0.02)">-</text><text transform="matrix(1.0161 0 0 1.0441 -543.18 0.00)">2</text><text transform="matrix(1.0541 0 0 1.0296 -534.31 -0.14)">0</text></g>
<g role="img" aria-label="2022-05-27" transform="translate(605.80 0) rotate(-90)" font-size="13.889" fill="#000" stroke="#000" stroke-width="0.167"><text transform="matrix(1.0161 0 0 1.0441 -606.16 0.00)">2</text><text transform="matrix(1.0541 0 0 1.0296 -597.29 -0.14)">0</text><text transform="matrix(1.0161 0 0 1.0441 -588.50 0.00)">2</text><text transform="matrix(1.0161 0 0 1.0441 -579.67 0.00)">2</text><text transform="matrix(1.0780 0 0 1.0250 -571.14 -0.02)">-</text><text transform="matrix(1.0541 0 0 1.0296 -565.80 -0.14)">0</text><text transform="matrix(0.9949 0 0 1.0448 -556.80 -0.14)">5</text><text transform="matrix(1.0780 0 0 1.0250 -548.48 -0.02)">-</text><text transform="matrix(1.0161 0 0 1.0441 -543.18 0.00)">2</text><text transform="matrix(1.0311 0 0 1.0596 -534.25 0.00)">7</text></g>
<g role="img" aria-label="2022-06-03" transform="translate(620.80 0) rotate(-90)" font-size="13.889" fill="#000" stroke="#000" stroke-width="0.167"><text transform="matrix(1.0161 0 0 1.0441 -606.16 0.00)">2</text><text transform="matrix(1.0541 0 0 1.0296 -597.29 -0.14)">0</text><text transform="matrix(1.0161 0 0 1.0441 -588.50 0.00)">2</text><text transform="matrix(1.0161 0 0 1.0441 -579.67 0.00)">2</text><text transform="matrix(1.0780 0 0 1.0250 -571.14 -0.02)">-</text><text transform="matrix(1.0541 0 0 1.0296 -565.80 -0.14)">0</text><text transform="matrix(1.0910 0 0 1.0296 -557.12 -0.14)">6</text><text transform="matrix(1.0780 0 0 1.0250 -548.48 -0.02)">-</text><text transform="matrix(1.0541 0 0 1.0296 -543.14 -0.14)">0</text><text transform="matrix(1.0124 0 0 1.0296 -534.13 -0.14)">3</text></g>
<g role="img" aria-label="2022-06-10" transform="translate(634.80 0) rotate(-90)" font-size="13.889" fill="#000" stroke="#000" stroke-width="0.167"><text transform="matrix(1.0161 0 0 1.0441 -606.16 0.00)">2</text><text transform="matrix(1.0541 0 0 1.0296 -597.29 -0.14)">0</text><text transform="matrix(1.0161 0 0 1.0441 -588.50 0.00)">2</text><text transform="matrix(1.0161 0 0 1.0441 -579.67 0.00)">2</text><text transform="matrix(1.0780 0 0 1.0250 -571.14 -0.02)">-</text><text transform="matrix(1.0541 0 0 1.0296 -565.80 -0.14)">0</text><text transform="matrix(1.0910 0 0 1.0296 -557.12 -0.14)">6</text><text transform="matrix(1.0780 0 0 1.0250 -548.48 -0.02)">-</text><text transform="matrix(1.0068 0 0 1.0596 -543.02 0.00)">1</text><text transform="matrix(1.0541 0 0 1.0296 -534.31 -0.14)">0</text></g>
<g role="img" aria-label="2022-06-17" transform="translate(649.80 0) rotate(-90)" font-size="13.889" fill="#000" stroke="#000" stroke-width="0.167"><text transform="matrix(1.0161 0 0 1.0441 -606.16 0.00)">2</text><text transform="matrix(1.0541 0 0 1.0296 -597.29 -0.14)">0</text><text transform="matrix(1.0161 0 0 1.0441 -588.50 0.00)">2</text><text transform="matrix(1.0161 0 0 1.0441 -579.67 0.00)">2</text><text transform="matrix(1.0780 0 0 1.0250 -571.14 -0.02)">-</text><text transform="matrix(1.0541 0 0 1.0296 -565.80 -0.14)">0</text><text transform="matrix(1.0910 0 0 1.0296 -557.12 -0.14)">6</text><text transform="matrix(1.0780 0 0 1.0250 -548.48 -0.02)">-</text><text transform="matrix(1.0068 0 0 1.0596 -543.02 0.00)">1</text><text transform="matrix(1.0311 0 0 1.0596 -534.25 0.00)">7</text></g>
<g role="img" aria-label="2022-06-24" transform="translate(664.80 0) rotate(-90)" font-size="13.889" fill="#000" stroke="#000" stroke-width="0.167"><text transform="matrix(1.0161 0 0 1.0441 -606.16 0.00)">2</text><text transform="matrix(1.0541 0 0 1.0296 -597.29 -0.14)">0</text><text transform="matrix(1.0161 0 0 1.0441 -588.50 0.00)">2</text><text transform="matrix(1.0161 0 0 1.0441 -579.67 0.00)">2</text><text transform="matrix(1.0780 0 0 1.0250 -571.14 -0.02)">-</text><text transform="matrix(1.0541 0 0 1.0296 -565.80 -0.14)">0</text><text transform="matrix(1.0910 0 0 1.0296 -557.12 -0.14)">6</text><text transform="matrix(1.0780 0 0 1.0250 -548.48 -0.02)">-</text><text transform="matrix(1.0161 0 0 1.0441 -543.18 0.00)">2</text><text transform="matrix(1.0543 0 0 1.0596 -534.31 0.00)">4</text></g>
<g role="img" aria-label="2022-07-01" transform="translate(679.80 0) rotate(-90)" font-size="13.889" fill="#000" stroke="#000" stroke-width="0.167"><text transform="matrix(1.0161 0 0 1.0441 -606.16 0.00)">2</text><text transform="matrix(1.0541 0 0 1.0296 -597.29 -0.14)">0</text><text transform="matrix(1.0161 0 0 1.0441 -588.50 0.00)">2</text><text transform="matrix(1.0161 0 0 1.0441 -579.67 0.00)">2</text><text transform="matrix(1.0780 0 0 1.0250 -571.14 -0.02)">-</text><text transform="matrix(1.0541 0 0 1.0296 -565.80 -0.14)">0</text><text transform="matrix(1.0311 0 0 1.0596 -556.91 0.00)">7</text><text transform="matrix(1.0780 0 0 1.0250 -548.48 -0.02)">-</text><text transform="matrix(1.0541 0 0 1.0296 -543.14 -0.14)">0</text><text transform="matrix(1.0068 0 0 1.0596 -534.20 0.00)">1</text></g>
<g role="img" aria-label="2022-07-08" transform="translate(694.80 0) rotate(-90)" font-size="13.889" fill="#000" stroke="#000" stroke-width="0.167"><text transform="matrix(1.0161 0 0 1.0441 -606.16 0.00)">2</text><text transform="matrix(1.0541 0 0 1.0296 -597.29 -0.14)">0</text><text transform="matrix(1.0161 0 0 1.0441 -588.50 0.00)">2</text><text transform="matrix(1.0161 0 0 1.0441 -579.67 0.00)">2</text><text transform="matrix(1.0780 0 0 1.0250 -571.14 -0.02)">-</text><text transform="matrix(1.0541 0 0 1.0296 -565.80 -0.14)">0</text><text transform="matrix(1.0311 0 0 1.0596 -556.91 0.00)">7</text><text transform="matrix(1.0780 0 0 1.0250 -548.48 -0.02)">-</text><text transform="matrix(1.0541 0 0 1.0296 -543.14 -0.14)">0</text><text transform="matrix(1.0656 0 0 1.0296 -534.36 -0.14)">8</text></g>
<g role="img" aria-label="2022-07-15" transform="translate(709.80 0) rotate(-90)" font-size="13.889" fill="#000" stroke="#000" stroke-width="0.167"><text transform="matrix(1.0161 0 0 1.0441 -606.16 0.00)">2</text><text transform="matrix(1.0541 0 0 1.0296 -597.29 -0.14)">0</text><text transform="matrix(1.0161 0 0 1.0441 -588.50 0.00)">2</text><text transform="matrix(1.0161 0 0 1.0441 -579.67 0.00)">2</text><text transform="matrix(1.0780 0 0 1.0250 -571.14 -0.02)">-</text><text transform="matrix(1.0541 0 0 1.0296 -565.80 -0.14)">0</text><text transform="matrix(1.0311 0 0 1.0596 -556.91 0.00)">7</text><text transform="matrix(1.0780 0 0 1.0250 -548.48 -0.02)">-</text><text transform="matrix(1.0068 0 0 1.0596 -543.02 0.00)">1</text><text transform="matrix(0.9949 0 0 1.0448 -534.14 -0.14)">5</text></g>
<g role="img" aria-label="2022-07-22" transform="translate(724.80 0) rotate(-90)" font-size="13.889" fill="#000" stroke="#000" stroke-width="0.167"><text transform="matrix(1.0161 0 0 1.0441 -606.16 0.00)">2</text><text transform="matrix(1.0541 0 0 1.0296 -597.29 -0.14)">0</text><text transform="matrix(1.0161 0 0 1.0441 -588.50 0.00)">2</text><text transform="matrix(1.0161 0 0 1.0441 -579.67 0.00)">2</text><text transform="matrix(1.0780 0 0 1.0250 -571.14 -0.02)">-</text><text transform="matrix(1.0541 0 0 1.0296 -565.80 -0.14)">0</text><text transform="matrix(1.0311 0 0 1.0596 -556.91 0.00)">7</text><text transform="matrix(1.0780 0 0 1.0250 -548.48 -0.02)">-</text><text transform="matrix(1.0161 0 0 1.0441 -543.18 0.00)">2</text><text transform="matrix(1.0161 0 0 1.0441 -534.35 0.00)">2</text></g>
<g role="img" aria-label="2022-07-29" transform="translate(738.80 0) rotate(-90)" font-size="13.889" fill="#000" stroke="#000" stroke-width="0.167"><text transform="matrix(1.0161 0 0 1.0441 -606.16 0.00)">2</text><text transform="matrix(1.0541 0 0 1.0296 -597.29 -0.14)">0</text><text transform="matrix(1.0161 0 0 1.0441 -588.50 0.00)">2</text><text transform="matrix(1.0161 0 0 1.0441 -579.67 0.00)">2</text><text transform="matrix(1.0780 0 0 1.0250 -571.14 -0.02)">-</text><text transform="matrix(1.0541 0 0 1.0296 -565.80 -0.14)">0</text><text transform="matrix(1.0311 0 0 1.0596 -556.91 0.00)">7</text><text transform="matrix(1.0780 0 0 1.0250 -548.48 -0.02)">-</text><text transform="matrix(1.0161 0 0 1.0441 -543.18 0.00)">2</text><text transform="matrix(1.0888 0 0 1.0296 -534.49 -0.14)">9</text></g>
<g role="img" aria-label="2022-08-05" transform="translate(753.80 0) rotate(-90)" font-size="13.889" fill="#000" stroke="#000" stroke-width="0.167"><text transform="matrix(1.0161 0 0 1.0441 -606.16 0.00)">2</text><text transform="matrix(1.0541 0 0 1.0296 -597.29 -0.14)">0</text><text transform="matrix(1.0161 0 0 1.0441 -588.50 0.00)">2</text><text transform="matrix(1.0161 0 0 1.0441 -579.67 0.00)">2</text><text transform="matrix(1.0780 0 0 1.0250 -571.14 -0.02)">-</text><text transform="matrix(1.0541 0 0 1.0296 -565.80 -0.14)">0</text><text transform="matrix(1.0656 0 0 1.0296 -557.02 -0.14)">8</text><text transform="matrix(1.0780 0 0 1.0250 -548.48 -0.02)">-</text><text transform="matrix(1.0541 0 0 1.0296 -543.14 -0.14)">0</text><text transform="matrix(0.9949 0 0 1.0448 -534.14 -0.14)">5</text></g>
<g role="img" aria-label="2022-08-12" transform="translate(768.80 0) rotate(-90)" font-size="13.889" fill="#000" stroke="#000" stroke-width="0.167"><text transform="matrix(1.0161 0 0 1.0441 -606.16 0.00)">2</text><text transform="matrix(1.0541 0 0 1.0296 -597.29 -0.14)">0</text><text transform="matrix(1.0161 0 0 1.0441 -588.50 0.00)">2</text><text transform="matrix(1.0161 0 0 1.0441 -579.67 0.00)">2</text><text transform="matrix(1.0780 0 0 1.0250 -571.14 -0.02)">-</text><text transform="matrix(1.0541 0 0 1.0296 -565.80 -0.14)">0</text><text transform="matrix(1.0656 0 0 1.0296 -557.02 -0.14)">8</text><text transform="matrix(1.0780 0 0 1.0250 -548.48 -0.02)">-</text><text transform="matrix(1.0068 0 0 1.0596 -543.02 0.00)">1</text><text transform="matrix(1.0161 0 0 1.0441 -534.35 0.00)">2</text></g>
<g role="img" aria-label="2022-08-19" transform="translate(783.80 0) rotate(-90)" font-size="13.889" fill="#000" stroke="#000" stroke-width="0.167"><text transform="matrix(1.0161 0 0 1.0441 -606.16 0.00)">2</text><text transform="matrix(1.0541 0 0 1.0296 -597.29 -0.14)">0</text><text transform="matrix(1.0161 0 0 1.0441 -588.50 0.00)">2</text><text transform="matrix(1.0161 0 0 1.0441 -579.67 0.00)">2</text><text transform="matrix(1.0780 0 0 1.0250 -571.14 -0.02)">-</text><text transform="matrix(1.0541 0 0 1.0296 -565.80 -0.14)">0</text><text transform="matrix(1.0656 0 0 1.0296 -557.02 -0.14)">8</text><text transform="matrix(1.0780 0 0 1.0250 -548.48 -0.02)">-</text><text transform="matrix(1.0068 0 0 1.0596 -543.02 0.00)">1</text><text transform="matrix(1.0888 0 0 1.0296 -534.49 -0.14)">9</text></g>
<g role="img" aria-label="2022-08-26" transform="translate(798.80 0) rotate(-90)" font-size="13.889" fill="#000" stroke="#000" stroke-width="0.167"><text transform="matrix(1.0161 0 0 1.0441 -606.16 0.00)">2</text><text transform="matrix(1.0541 0 0 1.0296 -597.29 -0.14)">0</text><text transform="matrix(1.0161 0 0 1.0441 -588.50 0.00)">2</text><text transform="matrix(1.0161 0 0 1.0441 -579.67 0.00)">2</text><text transform="matrix(1.0780 0 0 1.0250 -571.14 -0.02)">-</text><text transform="matrix(1.0541 0 0 1.0296 -565.80 -0.14)">0</text><text transform="matrix(1.0656 0 0 1.0296 -557.02 -0.14)">8</text><text transform="matrix(1.0780 0 0 1.0250 -548.48 -0.02)">-</text><text transform="matrix(1.0161 0 0 1.0441 -543.18 0.00)">2</text><text transform="matrix(1.0910 0 0 1.0296 -534.46 -0.14)">6</text></g>
<g role="img" aria-label="2022-09-02" transform="translate(813.80 0) rotate(-90)" font-size="13.889" fill="#000" stroke="#000" stroke-width="0.167"><text transform="matrix(1.0161 0 0 1.0441 -606.16 0.00)">2</text><text transform="matrix(1.0541 0 0 1.0296 -597.29 -0.14)">0</text><text transform="matrix(1.0161 0 0 1.0441 -588.50 0.00)">2</text><text transform="matrix(1.0161 0 0 1.0441 -579.67 0.00)">2</text><text transform="matrix(1.0780 0 0 1.0250 -571.14 -0.02)">-</text><text transform="matrix(1.0541 0 0 1.0296 -565.80 -0.14)">0</text><text transform="matrix(1.0888 0 0 1.0296 -557.15 -0.14)">9</text><text transform="matrix(1.0780 0 0 1.0250 -548.48 -0.02)">-</text><text transform="matrix(1.0541 0 0 1.0296 -543.14 -0.14)">0</text><text transform="matrix(1.0161 0 0 1.0441 -534.35 0.00)">2</text></g>
<g role="img" aria-label="2022-09-09" transform="translate(828.80 0) rotate(-90)" font-size="13.889" fill="#000" stroke="#000" stroke-width="0.167"><text transform="matrix(1.0161 0 0 1.0441 -606.16 0.00)">2</text><text transform="matrix(1.0541 0 0 1.0296 -597.29 -0.14)">0</text><text transform="matrix(1.0161 0 0 1.0441 -588.50 0.00)">2</text><text transform="matrix(1.0161 0 0 1.0441 -579.67 0.00)">2</text><text transform="matrix(1.0780 0 0 1.0250 -571.14 -0.02)">-</text><text transform="matrix(1.0541 0 0 1.0296 -565.80 -0.14)">0</text><text transform="matrix(1.0888 0 0 1.0296 -557.15 -0.14)">9</text><text transform="matrix(1.0780 0 0 1.0250 -548.48 -0.02)">-</text><text transform="matrix(1.0541 0 0 1.0296 -543.14 -0.14)">0</text><text transform="matrix(1.0888 0 0 1.0296 -534.49 -0.14)">9</text></g>
<g role="img" aria-label="2022-09-16" transform="translate(843.80 0) rotate(-90)" font-size="13.889" fill="#000" stroke="#000" stroke-width="0.167"><text transform="matrix(1.0161 0 0 1.0441 -606.16 0.00)">2</text><text transform="matrix(1.0541 0 0 1.0296 -597.29 -0.14)">0</text><text transform="matrix(1.0161 0 0 1.0441 -588.50 0.00)">2</text><text transform="matrix(1.0161 0 0 1.0441 -579.67 0.00)">2</text><text transform="matrix(1.0780 0 0 1.0250 -571.14 -0.02)">-</text><text transform="matrix(1.0541 0 0 1.0296 -565.80 -0.14)">0</text><text transform="matrix(1.0888 0 0 1.0296 -557.15 -0.14)">9</text><text transform="matrix(1.0780 0 0 1.0250 -548.48 -0.02)">-</text><text transform="matrix(1.0068 0 0 1.0596 -543.02 0.00)">1</text><text transform="matrix(1.0910 0 0 1.0296 -534.46 -0.14)">6</text></g>
<g role="img" aria-label="2022-09-20" transform="translate(853.00 0) rotate(-90)" font-size="13.889" fill="#000" stroke="#000" stroke-width="0.167"><text transform="matrix(1.0161 0 0 1.0441 -606.16 0.00)">2</text><text transform="matrix(1.0541 0 0 1.0296 -597.29 -0.14)">0</text><text transform="matrix(1.0161 0 0 1.0441 -588.50 0.00)">2</text><text transform="matrix(1.0161 0 0 1.0441 -579.67 0.00)">2</text><text transform="matrix(1.0780 0 0 1.0250 -571.14 -0.02)">-</text><text transform="matrix(1.0541 0 0 1.0296 -565.80 -0.14)">0</text><text transform="matrix(1.0888 0 0 1.0296 -557.15 -0.14)">9</text><text transform="matrix(1.0780 0 0 1.0250 -548.48 -0.02)">-</text><text transform="matrix(1.0161 0 0 1.0441 -543.18 0.00)">2</text><text transform="matrix(1.0541 0 0 1.0296 -534.31 -0.14)">0</text></g>
<g role="img" aria-label="Date" font-size="13.889" fill="#000" stroke="#000" stroke-width="0.167"><text transform="matrix(1.0346 0 0 1.0596 443.62 620.80)">D</text><text transform="matrix(0.8992 0 0 0.9984 454.42 620.66)">a</text><text transform="matrix(1.3365 0 0 1.0731 462.72 620.68)">t</text><text transform="matrix(1.0801 0 0 0.9984 468.19 620.66)">e</text></g>
<g role="img" aria-label="OBV JPM PD" font-size="34.722" fill="#000" stroke="#000" stroke-width="0.417"><text transform="matrix(0.9886 0 0 1.0896 346.37 37.53)">O</text><text transform="matrix(0.9716 0 0 1.0808 374.04 37.40)">B</text><text transform="matrix(1.0148 0 0 1.0808 396.23 37.40)">V</text><text transform="matrix(0.6060 0 0 1.3583 428.81 44.03)">J</text><text transform="matrix(0.8844 0 0 1.0808 442.07 37.40)">P</text><text transform="matrix(0.9971 0 0 1.0808 462.71 37.40)">M</text><text transform="matrix(0.8844 0 0 1.0808 504.06 37.40)">P</text><text transform="matrix(1.0346 0 0 1.0808 524.58 37.40)">D</text></g>
<g role="img" aria-label="2022-09-20 OBV: -1194048110.00(-0.98%) Neutral" font-size="20.833" fill="#000" stroke="#000" stroke-width="0.250"><text transform="matrix(1.0161 0 0 1.1193 309.94 72.90)">2</text><text transform="matrix(1.0541 0 0 1.1249 323.27 72.98)">0</text><text transform="matrix(1.0161 0 0 1.1193 336.50 72.90)">2</text><text transform="matrix(1.0161 0 0 1.1193 349.78 72.90)">2</text><text transform="matrix(1.0780 0 0 1.0793 362.62 72.86)">-</text><text transform="matrix(1.0541 0 0 1.1249 370.65 72.98)">0</text><text transform="matrix(1.0888 0 0 1.1249 383.66 72.98)">9</text><text transform="matrix(1.0780 0 0 1.0793 396.71 72.86)">-</text><text transform="matrix(1.0161 0 0 1.1193 404.69 72.90)">2</text><text transform="matrix(1.0541 0 0 1.1249 418.02 72.98)">0</text><text transform="matrix(0.9886 0 0 1.1249 437.62 72.98)">O</text><text transform="matrix(0.9716 0 0 1.1158 454.24 72.90)">B</text><text transform="matrix(1.0148 0 0 1.1158 467.62 72.90)">V</text><text transform="matrix(1.0821 0 0 1.0306 480.47 72.90)">:</text><text transform="matrix(1.0780 0 0 1.0793 493.77 72.86)">-</text><text transform="matrix(1.0068 0 0 1.1158 501.97 72.90)">1</text><text transform="matrix(1.0068 0 0 1.1158 515.26 72.90)">1</text><text transform="matrix(1.0888 0 0 1.1249 528.10 72.98)">9</text><text transform="matrix(1.0543 0 0 1.1158 541.64 72.90)">4</text><text transform="matrix(1.0541 0 0 1.1249 554.92 72.98)">0</text><text transform="matrix(1.0543 0 0 1.1158 568.20 72.90)">4</text><text transform="matrix(1.0656 0 0 1.1249 581.42 72.98)">8</text><text transform="matrix(1.0068 0 0 1.1158 594.94 72.90)">1</text><text transform="matrix(1.0068 0 0 1.1158 608.23 72.90)">1</text><text transform="matrix(1.0541 0 0 1.1249 621.33 72.98)">0</text><text transform="matrix(1.0821 0 0 1.2213 634.27 72.90)">.</text><text transform="matrix(1.0541 0 0 1.1249 641.25 72.98)">0</text><text transform="matrix(1.0541 0 0 1.1249 654.53 72.98)">0</text><text transform="matrix(0.8453 0 0 1.0066 667.99 71.45)">(</text><text transform="matrix(1.0780 0 0 1.0793 675.46 72.86)">-</text><text transform="matrix(1.0541 0 0 1.1249 683.49 72.98)">0</text><text transform="matrix(1.0821 0 0 1.2213 696.42 72.90)">.</text><text transform="matrix(1.0888 0 0 1.1249 703.14 72.98)">9</text><text transform="matrix(1.0656 0 0 1.1249 716.62 72.98)">8</text><text transform="matrix(1.0269 0 0 1.1382 729.84 73.07)">%</text><text transform="matrix(0.8453 0 0 1.0066 750.85 71.45)">)</text><text transform="matrix(0.9878 0 0 1.1158 764.42 72.90)">N</text><text transform="matrix(1.0801 0 0 1.1037 779.87 72.99)">e</text><text transform="matrix(1.0782 0 0 1.1237 792.84 72.98)">u</text><text transform="matrix(1.3365 0 0 1.1300 805.89 72.72)">t</text><text transform="matrix(1.2812 0 0 1.0960 814.06 72.90)">r</text><text transform="matrix(0.8992 0 0 1.1037 822.98 72.99)">a</text><text transform="matrix(1.0222 0 0 1.1041 835.84 72.90)">l</text></g>
<rect x="184.20" y="624.00" width="10.65" height="10.85" fill="#ff0000"/>
<g role="img" aria-label="Super Bearish" font-size="13.889" fill="#ff0000" stroke="#ff0000" stroke-width="0.167"><text transform="matrix(0.8914 0 0 1.0296 200.34 633.00)">S</text><text transform="matrix(1.0782 0 0 1.0166 209.00 633.00)">u</text><text transform="matrix(1.0879 0 0 1.0133 217.87 633.11)">p</text><text transform="matrix(1.0801 0 0 0.9984 226.52 633.00)">e</text><text transform="matrix(1.2812 0 0 1.0166 235.01 633.14)">r</text><text transform="matrix(0.9716 0 0 1.0596 245.30 633.14)">B</text><text transform="matrix(1.0801 0 0 0.9984 254.69 633.00)">e</text><text transform="matrix(0.8992 0 0 0.9984 263.40 633.00)">a</text><text transform="matrix(1.2812 0 0 1.0166 271.68 633.14)">r</text><text transform="matrix(1.0222 0 0 1.0485 277.67 633.14)">i</text><text transform="matrix(0.9586 0 0 1.0011 281.54 633.00)">s</text><text transform="matrix(1.0856 0 0 1.0485 288.61 633.14)">h</text></g>
<rect x="298.10" y="624.00" width="10.65" height="10.85" fill="#ff5555"/>
<g role="img" aria-label="Very Bearish" font-size="13.889" fill="#ff5555" stroke="#ff5555" stroke-width="0.167"><text transform="matrix(1.0148 0 0 1.0596 314.54 633.14)">V</text><text transform="matrix(1.0801 0 0 0.9984 322.99 633.00)">e</text><text transform="matrix(1.2812 0 0 1.0166 331.47 633.14)">r</text><text transform="matrix(1.0739 0 0 1.0259 337.48 633.07)">y</text><text transform="matrix(0.9716 0 0 1.0596 349.98 633.14)">B</text><text transform="matrix(1.0801 0 0 0.9984 359.37 633.00)">e</text><text transform="matrix(0.8992 0 0 0.9984 368.08 633.00)">a</text><text transform="matrix(1.2812 0 0 1.0166 376.36 633.14)">r</text><text transform="matrix(1.0222 0 0 1.0485 382.34 633.14)">i</text><text transform="matrix(0.9586 0 0 1.0011 386.22 633.00)">s</text><text transform="matrix(1.0856 0 0 1.0485 393.28 633.14)">h</text></g>
<rect x="415.10" y="625.00" width="10.65" height="10.70" fill="#ffaaaa"/>
<g role="img" aria-label="Bearish" font-size="13.889" fill="#ffaaaa" stroke="#ffaaaa" stroke-width="0.167"><text transform="matrix(0.9716 0 0 1.0596 432.09 634.00)">B</text><text transform="matrix(1.0801 0 0 0.9984 441.48 633.86)">e</text><text transform="matrix(0.8992 0 0 0.9984 450.20 633.86)">a</text><text transform="matrix(1.2812 0 0 1.0166 458.47 634.00)">r</text><text transform="matrix(1.0222 0 0 1.0485 464.46 634.00)">i</text><text transform="matrix(0.9586 0 0 1.0011 468.34 633.86)">s</text><text transform="matrix(1.0856 0 0 1.0485 475.40 634.00)">h</text></g>
<rect x="493.5" y="625.5" width="10" height="10" fill="none" stroke="#1a1a1a" stroke-width="1"/>
<g role="img" aria-label="Neutral" font-size="13.889" fill="#000" stroke="#000" stroke-width="0.167"><text transform="matrix(0.9878 0 0 1.0596 509.47 633.90)">N</text><text transform="matrix(1.0801 0 0 0.9984 519.75 633.76)">e</text><text transform="matrix(1.0782 0 0 1.0166 528.36 633.76)">u</text><text transform="matrix(1.3365 0 0 1.0731 537.04 633.78)">t</text><text transform="matrix(1.2812 0 0 1.0166 542.47 633.90)">r</text><text transform="matrix(0.8992 0 0 0.9984 548.39 633.76)">a</text><text transform="matrix(1.0222 0 0 1.0485 556.95 633.90)">l</text></g>
<rect x="576.10" y="625.10" width="10.65" height="10.70" fill="#abd5ab"/>
<g role="img" aria-label="Bullish" font-size="13.889" fill="#abd5ab" stroke="#abd5ab" stroke-width="0.167"><text transform="matrix(0.9716 0 0 1.0596 592.49 634.10)">B</text><text transform="matrix(1.0782 0 0 1.0166 601.96 633.96)">u</text><text transform="matrix(1.0222 0 0 1.0485 610.90 634.10)">l</text><text transform="matrix(1.0222 0 0 1.0485 614.76 634.10)">l</text><text transform="matrix(1.0222 0 0 1.0485 618.62 634.10)">i</text><text transform="matrix(0.9586 0 0 1.0011 622.50 633.96)">s</text><text transform="matrix(1.0856 0 0 1.0485 629.56 634.10)">h</text></g>
<rect x="642.10" y="624.10" width="10.65" height="10.70" fill="#55aa55"/>
<g role="img" aria-label="Very Bullish" font-size="13.889" fill="#55aa55" stroke="#55aa55" stroke-width="0.167"><text transform="matrix(1.0148 0 0 1.0596 658.94 633.10)">V</text><text transform="matrix(1.0801 0 0 0.9984 667.39 632.96)">e</text><text transform="matrix(1.2812 0 0 1.0166 675.87 633.10)">r</text><text transform="matrix(1.0739 0 0 1.0259 681.88 633.03)">y</text><text transform="matrix(0.9716 0 0 1.0596 694.38 633.10)">B</text><text transform="matrix(1.0782 0 0 1.0166 703.85 632.96)">u</text><text transform="matrix(1.0222 0 0 1.0485 712.79 633.10)">l</text><text transform="matrix(1.0222 0 0 1.0485 716.64 633.10)">l</text><text transform="matrix(1.0222 0 0 1.0485 720.50 633.10)">i</text><text transform="matrix(0.9586 0 0 1.0011 724.38 632.96)">s</text><text transform="matrix(1.0856 0 0 1.0485 731.44 633.10)">h</text></g>
<rect x="741.10" y="623.90" width="10.65" height="10.70" fill="#008000"/>
<g role="img" aria-label="Super Bullish" font-size="13.889" fill="#008000" stroke="#008000" stroke-width="0.167"><text transform="matrix(0.8914 0 0 1.0296 757.74 632.76)">S</text><text transform="matrix(1.0782 0 0 1.0166 766.40 632.76)">u</text><text transform="matrix(1.0879 0 0 1.0133 775.27 632.87)">p</text><text transform="matrix(1.0801 0 0 0.9984 783.92 632.76)">e</text><text transform="matrix(1.2812 0 0 1.0166 792.41 632.90)">r</text><text transform="matrix(0.9716 0 0 1.0596 802.70 632.90)">B</text><text transform="matrix(1.0782 0 0 1.0166 812.17 632.76)">u</text><text transform="matrix(1.0222 0 0 1.0485 821.11 632.90)">l</text><text transform="matrix(1.0222 0 0 1.0485 824.96 632.90)">l</text><text transform="matrix(1.0222 0 0 1.0485 828.83 632.90)">i</text><text transform="matrix(0.9586 0 0 1.0011 832.70 632.76)">s</text><text transform="matrix(1.0856 0 0 1.0485 839.77 632.90)">h</text></g>
</svg>
</body></html>
